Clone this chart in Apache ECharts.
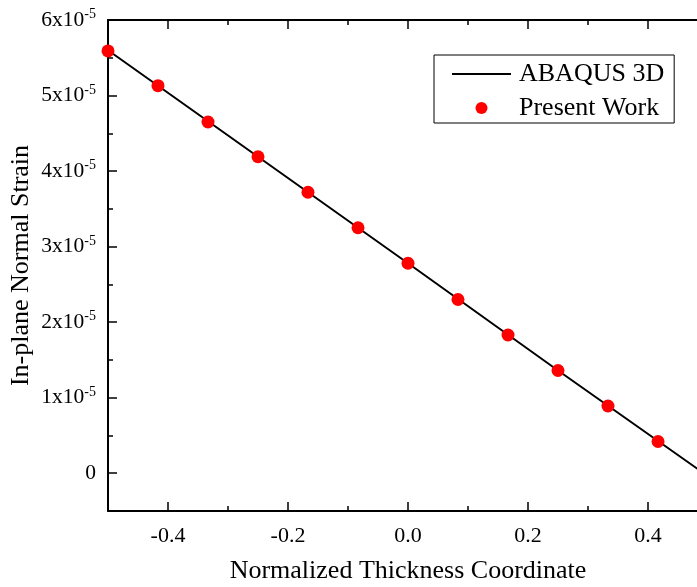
<!DOCTYPE html>
<html>
<head>
<meta charset="utf-8">
<script src="https://cdn.jsdelivr.net/npm/echarts@6/dist/echarts.min.js"></script>
<style>html,body{margin:0;padding:0;background:#fff;overflow:hidden}#c{width:720px;height:587px}</style>
</head>
<body>
<div id="c"></div>
<script>
// Data (strain values)
const presentX = [-0.5, -0.4167, -0.3333, -0.25, -0.1667, -0.0833, 0, 0.0833, 0.1667, 0.25, 0.3333, 0.4167];
const presentY = [5.59e-5, 5.13e-5, 4.65e-5, 4.19e-5, 3.72e-5, 3.25e-5, 2.78e-5, 2.30e-5, 1.83e-5, 1.36e-5, 0.89e-5, 0.42e-5];
const abaqusX = [-0.5, -0.25, 0, 0.25, 0.5];
const abaqusY = [5.60e-5, 4.19e-5, 2.78e-5, 1.36e-5, -0.04e-5];
const xMajorTicks = [-0.4, -0.2, 0, 0.2, 0.4];
const xMinorTicks = [-0.3, -0.1, 0.1, 0.3];
const yMajorTicks = [0, 1e-5, 2e-5, 3e-5, 4e-5, 5e-5, 6e-5];
const yMinorTicks = [0.5e-5, 1.5e-5, 2.5e-5, 3.5e-5, 4.5e-5, 5.5e-5];
const seriesNames = ['ABAQUS 3D', 'Present Work'];
const xName = 'Normalized Thickness Coordinate';
const yName = 'In-plane Normal Strain';

const FONT = "'Liberation Serif', 'Times New Roman', serif";
const chart = echarts.init(document.getElementById('c'));
const xRange = {min: -0.5, max: 0.5};
const yRange = {min: -0.5e-5, max: 6e-5};
const lineStyle = {color: '#000', width: 2};

function xAx(pos, ticks, len, opts) {
  return Object.assign({
    type: 'value', position: pos, min: xRange.min, max: xRange.max,
    axisLine: {show: false, lineStyle},
    axisTick: {show: true, inside: true, length: len, customValues: ticks, lineStyle: {color: '#000', width: 1.5}},
    axisLabel: {show: false},
    splitLine: {show: false}
  }, opts || {});
}
function yAx(pos, ticks, len, opts) {
  return Object.assign({
    type: 'value', position: pos, min: yRange.min, max: yRange.max,
    axisLine: {show: false, lineStyle},
    axisTick: {show: true, inside: true, length: len, customValues: ticks, lineStyle: {color: '#000', width: 1.5}},
    axisLabel: {show: false},
    splitLine: {show: false}
  }, opts || {});
}

const option = {
  backgroundColor: '#fff',
  animation: false,
  grid: {left: 108, top: 20, width: 600, height: 491, containLabel: false, outerBoundsMode: 'none'},
  legend: {
    orient: 'vertical', left: 434, top: 55,
    padding: [6, 10, 2, 17],
    borderColor: '#000', borderWidth: 1,
    itemWidth: 59, itemHeight: 12, itemGap: 8,
    textStyle: {fontFamily: FONT, fontSize: 26, lineHeight: 26, color: '#000', padding: [0, 0, 0, 3]},
    data: [
      {name: seriesNames[0], itemStyle: {opacity: 0}},
      {name: seriesNames[1]}
    ]
  },
  xAxis: [
    xAx('bottom', xMajorTicks, 9, {
      axisLine: {show: true, onZero: false, lineStyle},
      axisLabel: {show: true, customValues: xMajorTicks, margin: 14, color: '#000', fontFamily: FONT, fontSize: 22,
        formatter: v => (Math.abs(v) < 1e-9 ? '0.0' : v.toFixed(1))},
      name: xName, nameLocation: 'middle', nameGap: 47, nameMoveOverlap: false,
      nameTextStyle: {fontFamily: FONT, fontSize: 26, color: '#000'}
    }),
    xAx('bottom', xMinorTicks, 5, {axisLine: {show: false, onZero: false}}),
    xAx('top', xMajorTicks, 9, {axisLine: {show: true, onZero: false, lineStyle}}),
    xAx('top', xMinorTicks, 5, {axisLine: {show: false, onZero: false}})
  ],
  yAxis: [
    yAx('left', yMajorTicks, 9, {
      axisLine: {show: true, onZero: false, lineStyle},
      axisLabel: {show: true, customValues: yMajorTicks, margin: 12, color: '#000', fontFamily: FONT, fontSize: 21.5,
        formatter: v => {
          const n = Math.round(v / 1e-5);
          return n === 0 ? '0' : n + 'x10{sup|-5}';
        },
        rich: {sup: {fontFamily: FONT, fontSize: 14, color: '#000', padding: [0, 0, 11, 0]}}
      },
      name: yName, nameLocation: 'middle', nameGap: 74, nameMoveOverlap: false,
      nameTextStyle: {fontFamily: FONT, fontSize: 26, color: '#000'}
    }),
    yAx('left', yMinorTicks, 5, {axisLine: {show: false, onZero: false}})
  ],
  series: [
    {
      name: seriesNames[0], type: 'line', xAxisIndex: 0, yAxisIndex: 0,
      data: abaqusX.map((x, i) => [x, abaqusY[i]]),
      symbol: 'none', showSymbol: false,
      lineStyle: {color: '#000', width: 2},
      itemStyle: {color: '#000'},
      z: 2
    },
    {
      name: seriesNames[1], type: 'scatter', xAxisIndex: 0, yAxisIndex: 0,
      data: presentX.map((x, i) => [x, presentY[i]]),
      symbol: 'circle', symbolSize: 13,
      itemStyle: {color: '#ff0000', opacity: 1},
      z: 3
    }
  ]
};
chart.setOption(option);
</script>
</body>
</html>
